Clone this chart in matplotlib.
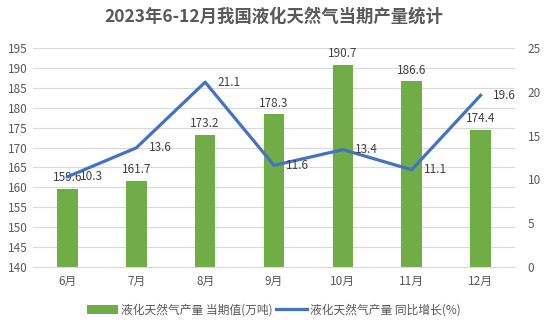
import matplotlib
matplotlib.use('Agg')
import matplotlib.pyplot as plt
import numpy as np

plt.rcParams['font.family'] = ['Noto Sans CJK SC', 'DejaVu Sans']

months = ['6月', '7月', '8月', '9月', '10月', '11月', '12月']
output = [159.6, 161.7, 173.2, 178.3, 190.7, 186.6, 174.4]
growth = [10.3, 13.6, 21.1, 11.6, 13.4, 11.1, 19.6]

bar_color = '#70AD47'
line_color = '#4472C4'
text_color = '#595959'

fig = plt.figure(figsize=(5.48, 3.28), dpi=100)
ax = fig.add_axes([33 / 548, 1 - 267 / 328, 482 / 548, 219 / 328])
ax2 = ax.twinx()

x = np.arange(len(months))
ax.bar(x, output, width=0.3, color=bar_color, zorder=2,
       label='液化天然气产量 当期值(万吨)')
ax.set_ylim(140, 195)
ax.set_yticks(np.arange(140, 196, 5))
ax.set_xlim(-0.5, len(months) - 0.5)
ax.set_xticks(x)
ax.set_xticklabels(months)
ax.grid(axis='y', color='#D9D9D9', linewidth=0.8, zorder=0)
ax.set_axisbelow(True)

for xi, v in zip(x, output):
    ax.text(xi, v + 1.2, f'{v}', ha='center', va='bottom', fontsize=8.5, color='#404040', zorder=5)

ax2.plot(x, growth, color=line_color, linewidth=2.3, zorder=4,
         label='液化天然气产量 同比增长(%)')
ax2.set_ylim(0, 25)
ax2.set_yticks(np.arange(0, 26, 5))
for xi, v in zip(x, growth):
    ax2.text(xi + 0.18, v, f'{v}', ha='left', va='center', fontsize=8.5, color='#404040', zorder=5)

for a in (ax, ax2):
    for s in a.spines.values():
        s.set_visible(False)
    a.tick_params(length=0, labelsize=8.5, colors=text_color)
ax.spines['bottom'].set_visible(True)
ax.spines['bottom'].set_color('#D9D9D9')
ax.tick_params(axis='x', pad=6)
ax.tick_params(axis='y', pad=4)
ax2.tick_params(axis='y', pad=9)

fig.text(0.5, 1 - 17 / 328, '2023年6-12月我国液化天然气当期产量统计', ha='center', va='center',
         fontsize=12.5, fontweight='bold', color=text_color)

h1, l1 = ax.get_legend_handles_labels()
h2, l2 = ax2.get_legend_handles_labels()
fig.legend(h1 + h2, l1 + l2, loc='center', bbox_to_anchor=(0.5, 1 - 310 / 328), ncol=2,
           frameon=False, fontsize=8.5, handlelength=2.6, handletextpad=0.3, columnspacing=0.3,
           labelcolor=text_color)

fig.savefig('out.png', dpi=100)
